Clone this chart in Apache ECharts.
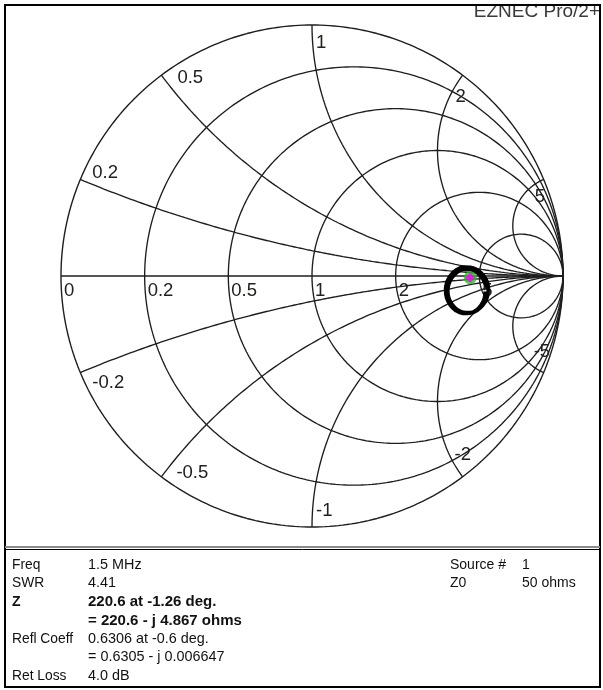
<!DOCTYPE html>
<html><head><meta charset="utf-8">
<script src="https://cdn.jsdelivr.net/npm/echarts@6/dist/echarts.min.js"></script>
<style>html,body{margin:0;padding:0;background:#fff;}#c{width:603px;height:690px;}</style>
</head><body><div id="c"></div>
<script>
// ---- chart data ----
const resistanceValues = [0.2, 0.5, 1, 2, 5];
const reactanceValues = [0.2, 0.5, 1, 2, 5, -0.2, -0.5, -1, -2, -5];
const resistanceLabelValues = [0, 0.2, 0.5, 1, 2, 5];
const resistanceLabels = ['0', '0.2', '0.5', '1', '2', '5'];
const reactanceLabels = ['0.2', '0.5', '1', '2', '5', '-0.2', '-0.5', '-1', '-2', '-5'];
const traceRe = [0.703, 0.699, 0.684, 0.660, 0.632, 0.602, 0.574, 0.552, 0.537, 0.532, 0.536, 0.550, 0.572, 0.600, 0.630, 0.658, 0.681, 0.697, 0.702,
                 0.690, 0.677, 0.657, 0.632, 0.605, 0.580, 0.560, 0.546, 0.541, 0.545, 0.558, 0.578, 0.603, 0.630, 0.654, 0.673, 0.686, 0.690];
const traceIm = [-0.056, -0.025, 0.002, 0.024, 0.035, 0.036, 0.024, 0.003, -0.025, -0.056, -0.087, -0.115, -0.137, -0.149, -0.148, -0.137, -0.116, -0.088, -0.058,
                 -0.032, -0.006, 0.014, 0.025, 0.026, 0.016, -0.004, -0.030, -0.058, -0.087, -0.113, -0.133, -0.145, -0.146, -0.136, -0.117, -0.091, -0.062];
const markerRe = [0.6305];
const markerIm = [-0.006647];
// info panel
const infoLeftKeys = ['Freq', 'SWR', 'Z', '', 'Refl Coeff', '', 'Ret Loss'];
const infoLeftValues = ['1.5 MHz', '4.41', '220.6 at -1.26 deg.', '= 220.6 - j 4.867 ohms', '0.6306 at -0.6 deg.', '= 0.6305 - j 0.006647', '4.0 dB'];
const infoBold = [false, false, true, true, false, false, false];
const infoRightKeys = ['Source #', 'Z0'];
const infoRightValues = ['1', '50 ohms'];
const titleText = 'EZNEC Pro/2+';

// ---- styles ----
const FONT = '"Liberation Sans", Arial, Helvetica, sans-serif';
const GRID_COLOR = '#1e1e1e';
const LABEL_COLOR = '#23211f';
const axisLabelOffset = [3, 5];
const reactanceLabelOffsets = [[12, -16], [16, -7], [4, 8], [-7, 12], [-9, 8], [12, 1], [15, -13], [4, -26], [-8, -31], [-10, -30]];

// ---- geometry helpers (Smith chart mapping) ----
function gammaOfZ(r, x) { const d = (r + 1) * (r + 1) + x * x; return [(r * r + x * x - 1) / d, 2 * x / d]; }
function resistanceCircle(r) {
  const c = r / (1 + r), R = 1 / (1 + r), pts = [];
  for (let i = 0; i <= 360; i++) { const a = i * Math.PI / 180; pts.push([c + R * Math.cos(a), R * Math.sin(a)]); }
  return pts;
}
function reactanceArc(x) {
  const ax = Math.abs(x), R = 1 / ax, end = gammaOfZ(0, ax);
  let a0 = Math.atan2(end[1] - R, end[0] - 1); if (a0 < 0) a0 += 2 * Math.PI;
  const a1 = 1.5 * Math.PI, pts = [], n = 240;
  for (let i = 0; i <= n; i++) { const a = a0 + (a1 - a0) * i / n; const px = 1 + R * Math.cos(a), py = R + R * Math.sin(a); pts.push([px, x < 0 ? -py : py]); }
  return pts;
}
function gridLine(data, w) {
  return { type: 'line', data: data, showSymbol: false, symbol: 'none', silent: true, clip: false, z: 2,
    lineStyle: { color: GRID_COLOR, width: w || 1.35 }, animation: false };
}

const series = [];
series.push(gridLine(resistanceCircle(0), 1.4));
series.push(gridLine([[-1, 0], [1, 0]], 1.4));
resistanceValues.forEach(r => series.push(gridLine(resistanceCircle(r))));
reactanceValues.forEach(x => series.push(gridLine(reactanceArc(x))));

// labels
const labelData = [];
resistanceLabelValues.forEach((r, i) => labelData.push({ value: [(r - 1) / (r + 1), 0], text: resistanceLabels[i], off: axisLabelOffset }));
reactanceValues.forEach((x, i) => { const g = gammaOfZ(0, x); labelData.push({ value: g, text: reactanceLabels[i], off: reactanceLabelOffsets[i] }); });
series.push({
  type: 'custom', coordinateSystem: 'cartesian2d', silent: true, animation: false, z: 3, clip: false,
  data: labelData.map(d => d.value),
  renderItem: function (params, api) {
    const d = labelData[params.dataIndex];
    const p = api.coord([api.value(0), api.value(1)]);
    return { type: 'text', x: p[0] + d.off[0], y: p[1] + d.off[1],
      style: { text: d.text, fill: LABEL_COLOR, font: '18.5px ' + FONT, align: 'left', verticalAlign: 'top' } };
  }
});
// trace
series.push({ type: 'line', data: traceRe.map((v, i) => [v, traceIm[i]]), showSymbol: false, symbol: 'none', silent: true,
  smooth: 0.4, z: 5, animation: false, lineStyle: { color: '#000', width: 3.6 } });
// marker
series.push({ type: 'scatter', data: markerRe.map((v, i) => [v, markerIm[i]]), symbol: 'circle', symbolSize: 13, silent: true, z: 6,
  itemStyle: { color: '#22c022' }, animation: false });
series.push({ type: 'scatter', data: markerRe.map((v, i) => [v, markerIm[i]]), symbol: 'diamond', symbolSize: 10, silent: true, z: 7,
  itemStyle: { color: '#ff00ff' }, animation: false });

// graphics: frame, title, info panel
const graphics = [];
graphics.push({ type: 'text', x: 600, y: 12, z: 1, style: { text: titleText, font: '19px ' + FONT, fill: '#3a3a3a', align: 'right', verticalAlign: 'middle' } });
graphics.push({ type: 'rect', shape: { x: 0, y: 0, width: 603, height: 4 }, style: { fill: '#fff' }, z: 2 });
graphics.push({ type: 'rect', shape: { x: 5, y: 5, width: 595, height: 682 }, style: { fill: null, stroke: '#000', lineWidth: 2 }, z: 3 });
graphics.push({ type: 'line', shape: { x1: 5, y1: 547, x2: 600, y2: 547 }, style: { stroke: '#8a8a8a', lineWidth: 2 }, z: 3 });
graphics.push({ type: 'line', shape: { x1: 5, y1: 549.5, x2: 600, y2: 549.5 }, style: { stroke: '#000', lineWidth: 1 }, z: 3 });
const rowY = [565, 583.5, 602, 620.5, 639, 657.5, 676];
infoLeftKeys.forEach((k, i) => {
  if (k) graphics.push({ type: 'text', x: 12, y: rowY[i], style: { text: k, font: (i === 2 ? 'bold 14px ' : '13.8px ') + FONT, fill: '#111', verticalAlign: 'middle' } });
  graphics.push({ type: 'text', x: 88, y: rowY[i], style: { text: infoLeftValues[i], font: (infoBold[i] ? 'bold 15px ' : '14.4px ') + FONT, fill: '#111', verticalAlign: 'middle' } });
});
infoRightKeys.forEach((k, i) => {
  graphics.push({ type: 'text', x: 450, y: rowY[i], style: { text: k, font: '14px ' + FONT, fill: '#111', verticalAlign: 'middle' } });
  graphics.push({ type: 'text', x: 522, y: rowY[i], style: { text: infoRightValues[i], font: '14px ' + FONT, fill: '#111', verticalAlign: 'middle' } });
});

const chart = echarts.init(document.getElementById('c'), null, { renderer: 'canvas', width: 603, height: 690 });
chart.setOption({
  animation: false,
  backgroundColor: '#fff',
  grid: { left: 61, top: 25, width: 502, height: 502, containLabel: false },
  xAxis: { type: 'value', min: -1, max: 1, show: false },
  yAxis: { type: 'value', min: -1, max: 1, show: false },
  series: series,
  graphic: graphics
});
</script>
</body></html>
